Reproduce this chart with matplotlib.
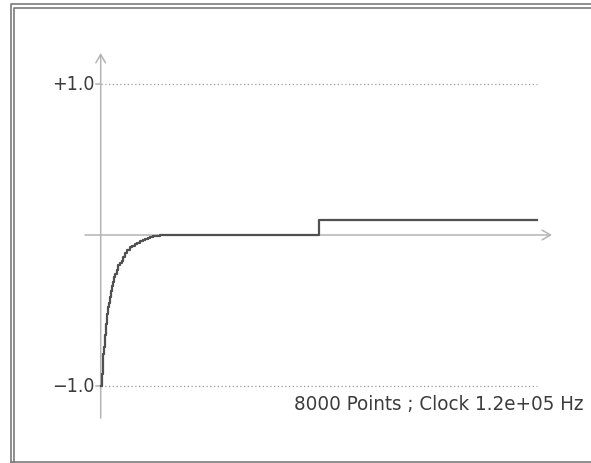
import matplotlib
matplotlib.use("Agg")
import matplotlib.pyplot as plt
from matplotlib.lines import Line2D

# Signal (sample index, value)
curve_samples = [0, 18, 37, 50, 60, 70, 79, 90, 100, 110, 121, 135, 150, 165, 183,
                 200, 220, 240, 262, 290, 320, 350, 385, 415, 450, 490, 537, 580,
                 620, 670, 720, 770, 810, 860, 904, 950, 1000, 1080, 1179, 4000, 8000]
curve_values = [-1.0, -0.92, -0.84, -0.79, -0.74, -0.70, -0.66, -0.62, -0.59, -0.55,
                -0.52, -0.48, -0.45, -0.41, -0.37, -0.34, -0.31, -0.28, -0.26, -0.23,
                -0.20, -0.185, -0.17, -0.145, -0.12, -0.10, -0.08, -0.07, -0.06,
                -0.05, -0.04, -0.032, -0.025, -0.018, -0.013, -0.009, -0.006, -0.003,
                0.0, 0.1, 0.1]
grid_levels = [1.0, -1.0]
grid_labels = ["+1.0", "\u22121.0"]
n_points = 8000
info_text = "8000 Points ; Clock 1.2e+05 Hz"

W, H = 591, 463
fig = plt.figure(figsize=(W / 100, H / 100), dpi=100)
ax = fig.add_axes([0, 0, 1, 1])
ax.axis("off")

# pixel mapping: sample 0 at x=100.7, sample 8000 at x=537; value 0 at y=235, 151 px per unit
x0, sx = 100.7, (537 - 100.7) / n_points
y0, sy = 235.0, 151.0
ax.set_xlim(-x0 / sx, (W - x0) / sx)
ax.set_ylim(-(H - y0) / sy, y0 / sy)

axis_col = "#b4b4b4"
text_col = "#3c3c3c"

# axes with open arrow heads
arrow = dict(arrowstyle="->,head_length=0.6,head_width=0.35",
             color=axis_col, lw=1.1, shrinkA=0, shrinkB=0)
ax.annotate("", xy=((552 - x0) / sx, 0), xytext=((85 - x0) / sx, 0), arrowprops=arrow)
ax.annotate("", xy=(0, (y0 - 53) / sy), xytext=(0, (y0 - 418) / sy), arrowprops=arrow)

# dotted grid lines, ticks and labels
for lev, lab in zip(grid_levels, grid_labels):
    ax.plot([0, n_points], [lev, lev], color="#9a9a9a", lw=0.9,
            linestyle=(0, (1, 2)))
    ax.plot([-5 / sx, 0], [lev, lev], color=axis_col, lw=1.1)
    ax.text(-6 / sx, lev, lab, ha="right", va="center", fontsize=14,
            color=text_col, family="DejaVu Sans", fontstretch="condensed")

# the signal, drawn over the axes
ax.plot(curve_samples, curve_values, drawstyle="steps-post", color="#505050",
        lw=1.6, zorder=5)

ax.text((583 - x0) / sx, (y0 - 404) / sy, info_text, ha="right", va="center",
        fontsize=14.7, color=text_col, family="DejaVu Sans", fontstretch="condensed")

# double frame
def fline(xs, ys, c, lw):
    fig.add_artist(Line2D([x / W for x in xs], [1 - y / H for y in ys],
                          transform=fig.transFigure, color=c, lw=lw))

fline([10.5, 10.5, W], [H, 3.5, 3.5], "#7a7a7a", 1.2)
fline([14.5, 14.5, W], [461.5, 7.5, 7.5], "#7a7a7a", 1.2)
fline([10.5, W], [461.5, 461.5], "#7a7a7a", 1.2)

fig.savefig("out.png", dpi=100)
